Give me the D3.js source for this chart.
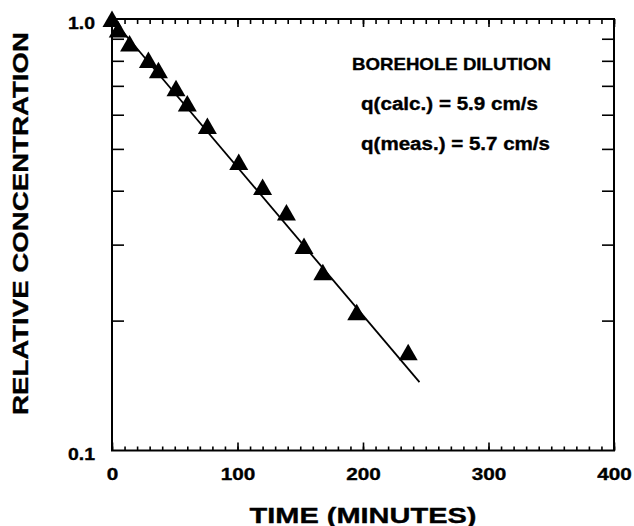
<!DOCTYPE html>
<html>
<head>
<meta charset="utf-8">
<script src="https://cdn.jsdelivr.net/npm/d3@7"></script>
<style>
  body { margin: 0; background: #fff; }
  text { font-family: "Liberation Sans", Arial, Helvetica, sans-serif; font-weight: bold; fill: #000; stroke: #000; stroke-width: 0.35px; }
</style>
</head>
<body>
<div id="chart"></div>
<script>
// measured points (time in minutes, relative concentration)
var timeMin = [0, 5, 14, 29, 37, 51, 60, 76, 101, 120, 139, 153, 168, 195, 236];
var relConc = [1.0, 0.945, 0.878, 0.803, 0.761, 0.691, 0.637, 0.565, 0.466, 0.408, 0.356, 0.298, 0.259, 0.209, 0.169];

// fitted decay line, end points
var fitTime = [0, 245];
var fitConc = [1.0, 0.144];

var xMajorTicks = [0, 100, 200, 300, 400];
var xMinorTicks = d3.range(0, 401, 10);
var yMinorTicks = [0.2, 0.3, 0.4, 0.5, 0.6, 0.7, 0.8, 0.9];
var yLabels = [0.1, 1.0];
var notes = ["BOREHOLE DILUTION", "q(calc.) = 5.9 cm/s", "q(meas.) = 5.7 cm/s"];

var margin = {left: 112, right: 20, top: 19, bottom: 75.5};
var width = 634 - margin.left - margin.right,
    height = 526 - margin.top - margin.bottom;

var svg = d3.select("#chart")
  .append("svg")
    .attr("width", 634)
    .attr("height", 526);

var chartGroup = svg.append("g")
    .attr("transform", `translate(${margin.left}, ${margin.top})`);

var xScale = d3.scaleLinear().domain([0, 400]).range([0, width]);
var yScale = d3.scaleLog().domain([0.1, 1]).range([height, 0]);

// widen glyphs a bit, the original lettering is stretched sideways
function stretch(sel, k) {
  sel.each(function() {
    var w = this.getComputedTextLength();
    d3.select(this)
      .attr("textLength", w * k)
      .attr("lengthAdjust", "spacingAndGlyphs");
  });
}

function fitWidth(sel, w) {
  sel.attr("textLength", w).attr("lengthAdjust", "spacingAndGlyphs");
}

function styleAxis(g) {
  g.select(".domain").remove();
  g.selectAll("line").attr("stroke", "#000").attr("stroke-width", 1.6);
}

// bottom axis: minor + major ticks pointing inward
chartGroup.append("g")
    .attr("transform", `translate(0, ${height})`)
    .call(d3.axisBottom(xScale).tickValues(xMinorTicks).tickSize(-4).tickFormat(""))
    .call(styleAxis);

var xAxis = chartGroup.append("g")
    .attr("transform", `translate(0, ${height})`)
    .call(d3.axisBottom(xScale).tickValues(xMajorTicks).tickSize(-8).tickPadding(17.5).tickFormat(d3.format("d")))
    .call(styleAxis);

xAxis.selectAll("text")
    .attr("font-size", "17px")
    .attr("fill", "#000")
    .call(stretch, 1.22);

// top axis
chartGroup.append("g")
    .call(d3.axisTop(xScale).tickValues(xMinorTicks).tickSize(-5).tickFormat(""))
    .call(styleAxis);
chartGroup.append("g")
    .call(d3.axisTop(xScale).tickValues(xMajorTicks).tickSize(-8).tickFormat(""))
    .call(styleAxis);

// left + right axis ticks
chartGroup.append("g")
    .call(d3.axisLeft(yScale).tickValues(yMinorTicks).tickSize(-12).tickFormat(""))
    .call(styleAxis);
chartGroup.append("g")
    .attr("transform", `translate(${width}, 0)`)
    .call(d3.axisRight(yScale).tickValues(yMinorTicks).tickSize(-12).tickFormat(""))
    .call(styleAxis);

chartGroup.selectAll(".ylab")
    .data(yLabels)
    .enter()
    .append("text")
    .attr("class", "ylab")
    .attr("x", -17)
    .attr("y", d => yScale(d) + 9.5)
    .attr("text-anchor", "end")
    .attr("font-size", "17px")
    .text(d => d3.format(".1f")(d))
    .call(fitWidth, 27);

// frame
chartGroup.append("rect")
    .attr("width", width)
    .attr("height", height)
    .attr("fill", "none")
    .attr("stroke", "#000")
    .attr("stroke-width", 2);

// fitted line
var fitLine = d3.line()
    .x((d, i) => xScale(fitTime[i]))
    .y(d => yScale(d));

chartGroup.append("path")
    .datum(fitConc)
    .attr("d", fitLine)
    .attr("fill", "none")
    .attr("stroke", "#000")
    .attr("stroke-width", 1.8);

// triangle markers
chartGroup.selectAll(".pt")
    .data(timeMin)
    .enter()
    .append("path")
    .attr("class", "pt")
    .attr("d", "M0,-8.5L9.5,8L-9.5,8Z")
    .attr("fill", "#000")
    .attr("transform", (d, i) => `translate(${xScale(d)},${yScale(relConc[i])})`);

// annotation
var noteY = [51, 91, 131];
var noteX = [240, 249, 249];
var noteW = [199, 177, 189];
var noteSize = ["17px", "18px", "18px"];
chartGroup.selectAll(".note")
    .data(notes)
    .enter()
    .append("text")
    .attr("class", "note")
    .attr("x", (d, i) => noteX[i])
    .attr("y", (d, i) => noteY[i])
    .attr("font-size", (d, i) => noteSize[i])
    .attr("textLength", (d, i) => noteW[i])
    .attr("lengthAdjust", "spacingAndGlyphs")
    .text(d => d);

// axis titles
chartGroup.append("text")
    .attr("x", width / 2)
    .attr("y", height + 72)
    .attr("text-anchor", "middle")
    .attr("font-size", "22.5px")
    .text("TIME (MINUTES)")
    .call(fitWidth, 227);

chartGroup.append("text")
    .attr("transform", "rotate(-90)")
    .attr("x", -204.5)
    .attr("y", -84)
    .attr("text-anchor", "middle")
    .attr("font-size", "22.5px")
    .text("RELATIVE CONCENTRATION")
    .call(fitWidth, 383);
</script>
</body>
</html>
